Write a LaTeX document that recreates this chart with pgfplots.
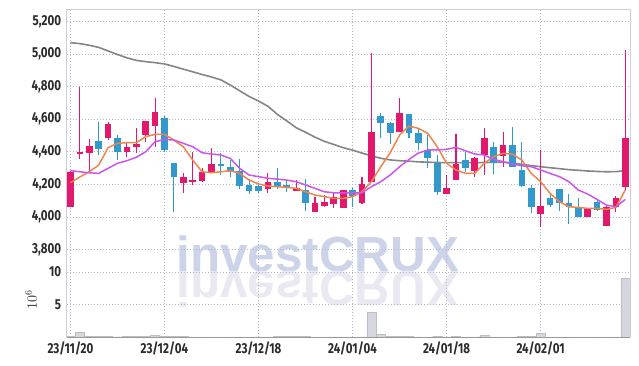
\documentclass[border=0pt]{standalone}
\usepackage{pgfplots}
\pgfplotsset{compat=1.18}
\usepackage{pgfplotstable}
\usepackage{fontspec}
\setmainfont{Fira Sans}[FakeStretch=0.8]
\newfontfamily\wmfont{Liberation Sans}

\definecolor{upc}{HTML}{E2186C}
\definecolor{dnc}{HTML}{3398CC}
\definecolor{maA}{HTML}{F0844A}
\definecolor{maB}{HTML}{CC55EE}
\definecolor{maC}{HTML}{858585}
\definecolor{gridc}{HTML}{B4B8CC}
\definecolor{framec}{HTML}{CDD0DC}
\definecolor{volc}{HTML}{D6D6DE}
\definecolor{volb}{HTML}{BDBDC8}
\definecolor{wm}{HTML}{CDD3E8}
\definecolor{wmr}{HTML}{EAE8F1}
\definecolor{tickc}{HTML}{2B2B2B}

\pgfplotstableread{
i o h l c
0 4062 4280 4060 4278
1 4385 4800 4355 4400
2 4395 4480 4275 4435
4 4482 4585 4475 4570
6 4400 4462 4370 4430
7 4430 4544 4395 4450
8 4503 4590 4462 4590
9 4558 4728 4431 4642
12 4206 4271 4144 4243
13 4216 4400 4195 4226
14 4222 4302 4216 4273
15 4267 4421 4267 4322
21 4169 4271 4144 4212
24 4161 4226 4161 4175
26 4031 4120 4031 4083
27 4068 4134 4062 4091
28 4079 4154 4052 4120
29 4052 4165 4052 4165
31 4087 4247 4079 4202
32 4216 5005 4216 4519
35 4519 4733 4519 4636
40 4138 4257 4138 4175
41 4226 4507 4226 4326
43 4282 4370 4247 4359
44 4380 4544 4257 4487
46 4374 4523 4308 4441
50 4015 4411 3939 4066
55 4001 4052 4001 4052
57 3943 4066 3943 4058
58 4058 4128 4031 4113
59 4185 5026 4165 4484
}\up

\pgfplotstableread{
i o h l c
3 4465 4585 4380 4415
5 4487 4503 4350 4400
10 4607 4620 4400 4410
11 4330 4330 4027 4247
16 4322 4390 4255 4312
17 4304 4349 4247 4273
18 4282 4353 4169 4191
19 4196 4232 4138 4161
20 4189 4206 4148 4161
22 4212 4298 4171 4185
23 4196 4226 4154 4175
25 4165 4230 4038 4083
30 4165 4175 4062 4128
33 4620 4640 4482 4579
34 4575 4585 4448 4513
36 4630 4630 4482 4513
37 4513 4544 4411 4456
38 4411 4503 4298 4359
39 4333 4380 4134 4155
42 4349 4400 4277 4302
45 4431 4462 4263 4333
47 4441 4550 4308 4308
48 4288 4462 4185 4191
49 4175 4196 4025 4058
51 4113 4144 4062 4072
52 4169 4169 4038 4083
53 4083 4138 3956 4058
54 4058 4113 3997 3997
56 4093 4107 4038 4042
}\down

\pgfplotstableread{
i a b g
0 4210 4284 5071
1 4245 4277 5065
2 4277 4271 5055
3 4318 4267 5042
4 4425 4298 5020
5 4452 4329 4998
6 4456 4345 4978
7 4456 4366 4962
8 4493 4400 4954
9 4507 4462 4948
10 4507 4476 4940
11 4472 4472 4925
12 4431 4452 4908
13 4349 4431 4892
14 4277 4394 4875
15 4271 4386 4860
16 4277 4380 4842
17 4284 4359 4810
18 4267 4298 4775
19 4226 4257 4740
20 4202 4247 4712
21 4189 4237 4680
22 4185 4232 4630
23 4181 4226 4590
24 4175 4216 4548
25 4154 4196 4520
26 4134 4175 4490
27 4124 4154 4464
28 4113 4148 4445
29 4113 4148 4425
30 4124 4148 4410
31 4154 4148 4392
32 4216 4185 4375
33 4308 4216 4360
34 4394 4257 4350
35 4503 4308 4345
36 4558 4353 4342
37 4544 4392 4338
38 4513 4411 4336
39 4431 4411 4334
40 4329 4415 4333
41 4288 4427 4333
42 4267 4406 4333
43 4267 4386 4333
44 4329 4380 4334
45 4370 4353 4335
46 4390 4339 4336
47 4386 4325 4332
48 4349 4314 4322
49 4267 4308 4315
50 4216 4288 4308
51 4144 4267 4302
52 4093 4247 4296
53 4062 4216 4290
54 4058 4165 4286
55 4052 4140 4282
56 4052 4107 4279
57 4046 4072 4277
58 4058 4062 4278
59 4165 4107 4284
}\ma

\pgfplotstableread{
i v
0 0.10
1 0.68
2 0.10
3 0.10
4 0.10
5 0.04
6 0.10
7 0.10
8 0.15
9 0.25
10 0.15
11 0.12
12 0.10
13 0.03
14 0.03
15 0.03
16 0.03
17 0.03
18 0.03
19 0.03
20 0.03
21 0.03
22 0.08
23 0.10
24 0.10
25 0.08
26 0.03
27 0.03
28 0.03
29 0.03
30 0.03
31 0.03
32 3.75
33 0.40
34 0.15
35 0.12
36 0.12
37 0.03
38 0.03
39 0.12
40 0.03
41 0.10
42 0.03
43 0.03
44 0.25
45 0.03
46 0.03
47 0.03
48 0.10
49 0.10
50 0.60
51 0.03
52 0.03
53 0.03
54 0.03
55 0.03
56 0.03
57 0.03
58 0.03
59 9.00
}\vol

\begin{document}
\begin{tikzpicture}
\useasboundingbox (0,0) rectangle (639bp,-366bp);
% watermark
\node[anchor=base west, inner sep=0pt, text=wm, font=\wmfont\bfseries\fontsize{49.5}{50}\selectfont] at (176.5bp,-271.7bp) {investCRUX};
\node[anchor=base west, inner sep=0pt, yscale=-1, text=wmr, font=\wmfont\bfseries\fontsize{49.5}{50}\selectfont] at (176.5bp,-271.7bp) {investCRUX};

\pgfplotsset{
  common/.style={
    scale only axis, width=563.3bp,
    xmin=-0.4, xmax=59.5,
    axis line style={draw=none},
    major tick length=0pt,
    grid=major,
    major grid style={gridc, line width=0.6bp, dash pattern=on 1bp off 2bp},
    clip mode=individual,
    xtick={0,10,20,30,40,50},
    tick label style={font=\bfseries\fontsize{14.5}{15}\selectfont, text=tickc},
    /pgf/number format/1000 sep={,},
    /pgf/number format/assume math mode=true,
  }
}

\begin{axis}[common,
  anchor=north west, at={(66.7bp,-9bp)},
  height=256.6bp,
  ymin=3700, ymax=5278,
  ytick={3800,4000,4200,4400,4600,4800,5000,5200},
  xticklabels={,,,,,},
  yticklabel style={xshift=-2bp},
]
\draw[framec, line width=0.8bp] (rel axis cs:0,0) -- (rel axis cs:0,1) -- (rel axis cs:1,1) -- (rel axis cs:1,0);
\addplot[maC, line width=1.6bp, mark=none] table[x=i, y=g] {\ma};
% wicks
\addplot[draw=none, mark=none, error bars/.cd, y dir=both, y explicit, error mark=none,
  error bar style={draw=upc, line width=1.1bp}]
  table[x=i, y expr={(\thisrow{h}+\thisrow{l})/2}, y error expr={(\thisrow{h}-\thisrow{l})/2}] {\up};
\addplot[draw=none, mark=none, error bars/.cd, y dir=both, y explicit, error mark=none,
  error bar style={draw=dnc, line width=1.1bp}]
  table[x=i, y expr={(\thisrow{h}+\thisrow{l})/2}, y error expr={(\thisrow{h}-\thisrow{l})/2}] {\down};
% bodies
\addplot[draw=none, mark=none, error bars/.cd, y dir=both, y explicit, error mark=none,
  error bar style={draw=upc, line width=6.7bp}]
  table[x=i, y expr={(\thisrow{o}+\thisrow{c})/2}, y error expr={max(abs(\thisrow{c}-\thisrow{o})/2,3)}] {\up};
\addplot[draw=none, mark=none, error bars/.cd, y dir=both, y explicit, error mark=none,
  error bar style={draw=dnc, line width=6.7bp}]
  table[x=i, y expr={(\thisrow{o}+\thisrow{c})/2}, y error expr={max(abs(\thisrow{c}-\thisrow{o})/2,3)}] {\down};
\addplot[maA, line width=1.5bp, mark=none] table[x=i, y=a] {\ma};
\addplot[maB, line width=1.5bp, mark=none] table[x=i, y=b] {\ma};
\end{axis}

\begin{axis}[common,
  anchor=north west, at={(66.7bp,-265.6bp)},
  height=71.4bp,
  ymin=0, ymax=11,
  ytick={5,10},
  xticklabels={23/11/20,23/12/04,23/12/18,24/01/04,24/01/18,24/02/01},
  yticklabel style={xshift=-2bp},
  xticklabel style={yshift=-1.5bp},
]
\draw[framec, line width=0.8bp] (rel axis cs:0,0) -- (rel axis cs:0,1);
\draw[framec, line width=0.8bp] (rel axis cs:1,0) -- (rel axis cs:1,1);
\addplot[ybar, bar width=9bp, fill=volc, draw=volb, line width=0.4bp] table[x=i, y=v] {\vol};
\draw[black!40, line width=0.8bp] (rel axis cs:0,0) -- (rel axis cs:1,0);
\end{axis}

\node[rotate=90, text=tickc, font=\fontsize{14}{14}\selectfont] at (31bp,-300bp) {$10^{6}$};
\end{tikzpicture}
\end{document}
